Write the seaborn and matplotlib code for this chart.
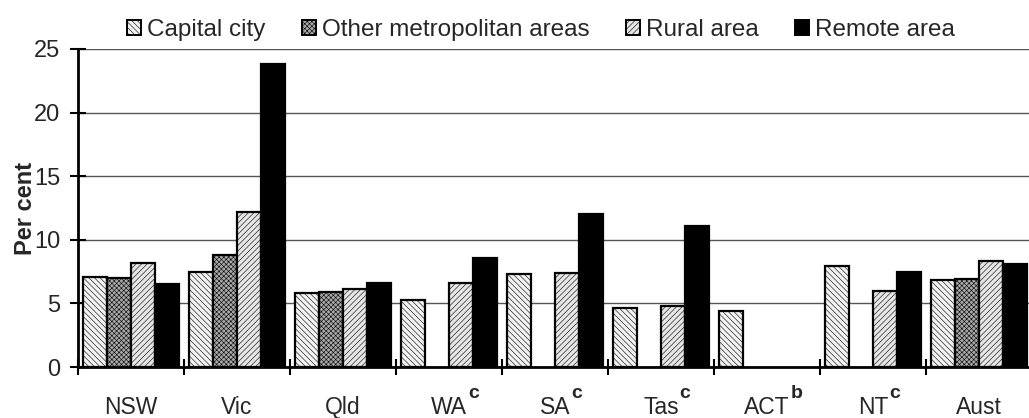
import numpy as np
import pandas as pd
import matplotlib
matplotlib.use("Agg")
import matplotlib.pyplot as plt
from matplotlib.patches import Patch
import seaborn as sns

# Regions (x categories) and their footnote markers
regions = ["NSW", "Vic", "Qld", "WA", "SA", "Tas", "ACT", "NT", "Aust"]
region_notes = ["", "", "", "c", "c", "c", "b", "c", ""]

# Area types (series)
areas = ["Capital city", "Other metropolitan areas", "Rural area", "Remote area"]

# Per cent values for each series (NaN where not reported)
capital_city = [7.1, 7.5, 5.8, 5.3, 7.3, 4.6, 4.4, 7.9, 6.8]
other_metro = [7.0, 8.8, 5.9, np.nan, np.nan, np.nan, np.nan, np.nan, 6.9]
rural_area = [8.2, 12.2, 6.1, 6.6, 7.4, 4.8, np.nan, 6.0, 8.3]
remote_area = [6.5, 23.8, 6.6, 8.6, 12.0, 11.1, np.nan, 7.5, 8.1]

y_ticks = [0, 5, 10, 15, 20, 25]

df = pd.DataFrame({
    "region": regions * 4,
    "area": np.repeat(areas, len(regions)),
    "value": capital_city + other_metro + rural_area + remote_area,
}).dropna()

sns.set_theme(style="white")
plt.rcParams["font.family"] = ["Liberation Sans", "DejaVu Sans"]
plt.rcParams["hatch.linewidth"] = 0.4

faces = ["#f2f2f2", "#a8a8a8", "#e6e6e6", "#000000"]
hatches = ["\\\\\\\\\\\\", "xxxxxxx", "//////", ""]

fig = plt.figure(figsize=(10.29, 4.18), dpi=100)
ax = fig.add_axes([0.0758, 0.122, 0.927, 0.761])

sns.barplot(data=df, x="region", y="value", hue="area",
            order=regions, hue_order=areas, palette=faces,
            saturation=1, width=0.905, edgecolor="black", linewidth=1.6,
            legend=False, ax=ax, zorder=3)

for cont, hatch, face in zip(ax.containers, hatches, faces):
    for bar in cont:
        bar.set_hatch(hatch)
        bar.set_facecolor(face)
        bar.set_edgecolor("black")

ax.set_xlim(-0.5, len(regions) - 0.5)
ax.set_ylim(0, 25)
ax.set_yticks(y_ticks)
ax.set_yticklabels([str(t) for t in y_ticks], fontsize=17)
ax.yaxis.grid(True, color="#555555", linewidth=1.0, zorder=0)
ax.set_axisbelow(True)

ax.set_xticks(range(len(regions)))
ax.set_xticklabels(regions, fontsize=16.5)
for lbl in ax.get_xticklabels():
    lbl.set_va("baseline")
ax.tick_params(axis="x", which="major", length=11, width=0, direction="inout", pad=28.5)
ax.set_xticks(np.arange(-0.5, len(regions) - 0.4, 1.0), minor=True)
ax.tick_params(axis="x", which="minor", length=11, width=1.5, direction="inout",
               color="black", bottom=True)
ax.tick_params(axis="y", length=11.5, width=1.5, direction="inout", pad=7,
               color="black", left=True)

ax.set_xlabel("")
ax.set_ylabel("Per cent", fontsize=17, fontweight="bold")
ax.yaxis.set_label_coords(-0.043, 0.5)

for side in ["top", "right"]:
    ax.spines[side].set_visible(False)
for side in ["left", "bottom"]:
    ax.spines[side].set_color("black")
    ax.spines[side].set_linewidth(2)
    ax.spines[side].set_zorder(4)

handles = [Patch(facecolor=f, edgecolor="black", hatch=h, linewidth=1.4)
           for f, h in zip(faces, hatches)]
fig.legend(handles, areas, loc="center", bbox_to_anchor=(541 / 1029, 1 - 30 / 418),
           ncol=4, frameon=False, fontsize=17.5, handlelength=0.57,
           handleheight=0.57, handletextpad=0.25, columnspacing=1.5,
           borderaxespad=0, borderpad=0)

# Bold superscript footnote markers after the region names
fig.canvas.draw()
renderer = fig.canvas.get_renderer()
to_fig = fig.transFigure.inverted()
for lbl, note in zip(ax.get_xticklabels(), region_notes):
    if not note:
        continue
    bb = lbl.get_window_extent(renderer)
    base_y = lbl.get_transform().transform(lbl.get_position())[1]
    fx, fy = to_fig.transform((bb.x1 + 1, base_y + 16))
    fig.text(fx, fy, note, fontsize=14, fontweight="bold", ha="left", va="baseline")

fig.savefig("out.png", dpi=100)
